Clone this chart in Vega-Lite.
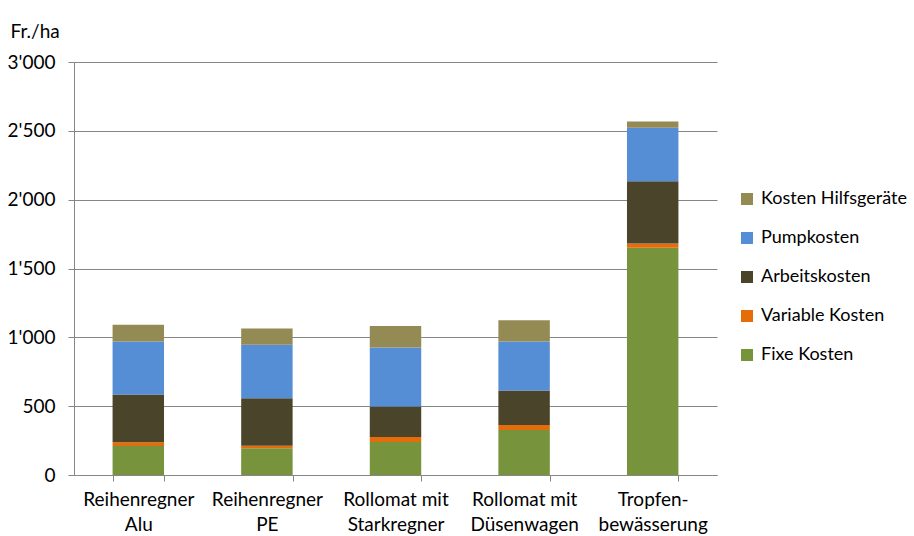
{
  "$schema": "https://vega.github.io/schema/vega-lite/v6.json",
  "width": 643,
  "height": 413,
  "autosize": "none",
  "padding": {"left": 74, "top": 62, "right": 197, "bottom": 61},
  "background": "white",
  "config": {
    "font": "Lato",
    "view": {"stroke": null},
    "axis": {"labelFont": "Lato", "titleFont": "Lato", "labelColor": "#000000", "titleColor": "#000000"}
  },
  "data": {
    "values": [
      {"verfahren": "Reihenregner Alu", "typ": "Fixe Kosten", "wert": 211},
      {"verfahren": "Reihenregner Alu", "typ": "Variable Kosten", "wert": 26},
      {"verfahren": "Reihenregner Alu", "typ": "Arbeitskosten", "wert": 347},
      {"verfahren": "Reihenregner Alu", "typ": "Pumpkosten", "wert": 386},
      {"verfahren": "Reihenregner Alu", "typ": "Kosten Hilfsgeräte", "wert": 122},
      {"verfahren": "Reihenregner PE", "typ": "Fixe Kosten", "wert": 194},
      {"verfahren": "Reihenregner PE", "typ": "Variable Kosten", "wert": 19},
      {"verfahren": "Reihenregner PE", "typ": "Arbeitskosten", "wert": 345},
      {"verfahren": "Reihenregner PE", "typ": "Pumpkosten", "wert": 388},
      {"verfahren": "Reihenregner PE", "typ": "Kosten Hilfsgeräte", "wert": 119},
      {"verfahren": "Rollomat mit Starkregner", "typ": "Fixe Kosten", "wert": 240},
      {"verfahren": "Rollomat mit Starkregner", "typ": "Variable Kosten", "wert": 36},
      {"verfahren": "Rollomat mit Starkregner", "typ": "Arbeitskosten", "wert": 221},
      {"verfahren": "Rollomat mit Starkregner", "typ": "Pumpkosten", "wert": 429},
      {"verfahren": "Rollomat mit Starkregner", "typ": "Kosten Hilfsgeräte", "wert": 156},
      {"verfahren": "Rollomat mit Düsenwagen", "typ": "Fixe Kosten", "wert": 327},
      {"verfahren": "Rollomat mit Düsenwagen", "typ": "Variable Kosten", "wert": 37},
      {"verfahren": "Rollomat mit Düsenwagen", "typ": "Arbeitskosten", "wert": 250},
      {"verfahren": "Rollomat mit Düsenwagen", "typ": "Pumpkosten", "wert": 356},
      {"verfahren": "Rollomat mit Düsenwagen", "typ": "Kosten Hilfsgeräte", "wert": 155},
      {"verfahren": "Tropfen-bewässerung", "typ": "Fixe Kosten", "wert": 1650},
      {"verfahren": "Tropfen-bewässerung", "typ": "Variable Kosten", "wert": 32},
      {"verfahren": "Tropfen-bewässerung", "typ": "Arbeitskosten", "wert": 452},
      {"verfahren": "Tropfen-bewässerung", "typ": "Pumpkosten", "wert": 388},
      {"verfahren": "Tropfen-bewässerung", "typ": "Kosten Hilfsgeräte", "wert": 46}
    ]
  },
  "transform": [
    {"calculate": "indexof(['Fixe Kosten','Variable Kosten','Arbeitskosten','Pumpkosten','Kosten Hilfsgeräte'], datum.typ)", "as": "stackorder"}
  ],
  "mark": {"type": "bar"},
  "encoding": {
    "x": {
      "field": "verfahren",
      "type": "nominal",
      "sort": null,
      "scale": {"paddingInner": 0.6, "paddingOuter": 0.3},
      "axis": {
        "title": null,
        "labelAngle": 0,
        "labelFontSize": 19,
        "labelLineHeight": 25,
        "labelPadding": 9,
        "labelBaseline": "top",
        "tickBand": "extent",
        "tickSize": 6,
        "tickColor": "#868686",
        "domainColor": "#868686",
        "labelExpr": "indexof(datum.label,'-')>0 ? [slice(datum.label,0,indexof(datum.label,'-')+1), slice(datum.label,indexof(datum.label,'-')+1)] : [slice(datum.label,0,lastindexof(datum.label,' ')), slice(datum.label,lastindexof(datum.label,' ')+1)]"
      }
    },
    "y": {
      "field": "wert",
      "type": "quantitative",
      "stack": "zero",
      "scale": {"domain": [0, 3000], "nice": false},
      "axis": {
        "values": [0, 500, 1000, 1500, 2000, 2500, 3000],
        "title": "Fr./ha",
        "titleAngle": 0,
        "titleAlign": "left",
        "titleBaseline": "middle",
        "titleX": -64,
        "titleY": -31,
        "titleFontSize": 19,
        "titleFontWeight": "normal",
        "labelFontSize": 19,
        "labelPadding": 13,
        "tickSize": 6,
        "tickColor": "#868686",
        "domainColor": "#868686",
        "gridColor": "#868686",
        "labelExpr": "replace(format(datum.value, ','), ',', \"'\")"
      }
    },
    "color": {
      "field": "typ",
      "type": "nominal",
      "scale": {
        "domain": ["Kosten Hilfsgeräte", "Pumpkosten", "Arbeitskosten", "Variable Kosten", "Fixe Kosten"],
        "range": ["#948A54", "#558ED5", "#4A452A", "#E46C0A", "#77933C"]
      },
      "legend": {
        "title": null,
        "orient": "none",
        "legendX": 664,
        "legendY": 128,
        "padding": 0,
        "symbolType": "square",
        "symbolSize": 144,
        "symbolStrokeWidth": 0,
        "labelFontSize": 18,
        "labelOffset": 5,
        "labelColor": "#000000",
        "rowPadding": 21
      }
    },
    "order": {"field": "stackorder", "type": "quantitative", "sort": "ascending"}
  }
}
